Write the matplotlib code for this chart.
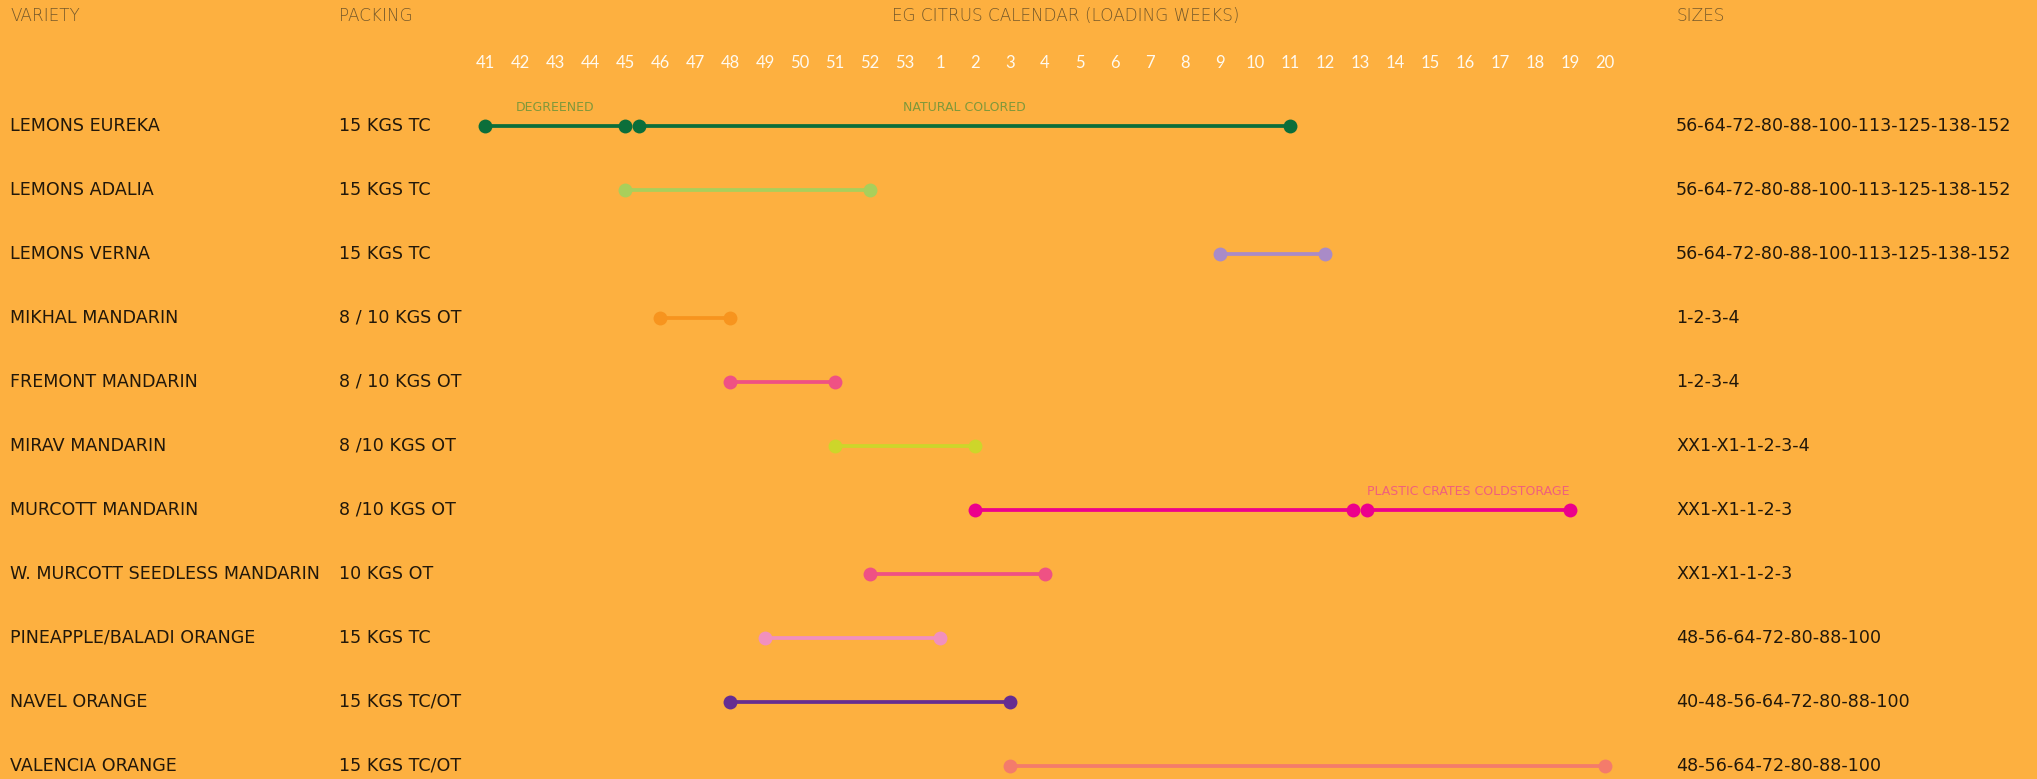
import matplotlib
matplotlib.use("Agg")
import matplotlib.pyplot as plt

# week axis: 41..53 then 1..20
weeks = list(range(41, 54)) + list(range(1, 21))

varieties = ['LEMONS EUREKA', 'LEMONS ADALIA', 'LEMONS VERNA', 'MIKHAL MANDARIN',
             'FREMONT MANDARIN', 'MIRAV MANDARIN', 'MURCOTT MANDARIN',
             'W. MURCOTT SEEDLESS MANDARIN', 'PINEAPPLE/BALADI ORANGE',
             'NAVEL ORANGE', 'VALENCIA ORANGE']
packing = ['15 KGS TC', '15 KGS TC', '15 KGS TC', '8 / 10 KGS OT', '8 / 10 KGS OT',
           '8 /10 KGS OT', '8 /10 KGS OT', '10 KGS OT', '15 KGS TC', '15 KGS TC/OT',
           '15 KGS TC/OT']
sizes = ['56-64-72-80-88-100-113-125-138-152', '56-64-72-80-88-100-113-125-138-152',
         '56-64-72-80-88-100-113-125-138-152', '1-2-3-4', '1-2-3-4', 'XX1-X1-1-2-3-4',
         'XX1-X1-1-2-3', 'XX1-X1-1-2-3', '48-56-64-72-80-88-100',
         '40-48-56-64-72-80-88-100', '48-56-64-72-80-88-100']

# loading segments per row, in positions along the week axis (0 = week 41)
segments = [
    [(0, 4.0, 'DEGREENED'), (4.4, 23, 'NATURAL COLORED')],
    [(4, 11, '')],
    [(21, 24, '')],
    [(5, 7, '')],
    [(7, 10, '')],
    [(10, 14, '')],
    [(14, 24.8, ''), (25.2, 31, 'PLASTIC CRATES COLDSTORAGE')],
    [(11, 16, '')],
    [(8, 13, '')],
    [(7, 15, '')],
    [(15, 32, '')],
]
colors = ['#0b6e3a', '#a9cf5b', '#a98bc7', '#f7941e', '#ef5184', '#cdd62a',
          '#ec008c', '#ef5184', '#f190be', '#662d91', '#f47b6b']
note_colors = {'DEGREENED': '#7f983a', 'NATURAL COLORED': '#7f983a',
               'PLASTIC CRATES COLDSTORAGE': '#f0607c'}

bg = '#fdb040'
W, H = 2037, 779
fig = plt.figure(figsize=(W / 100, H / 100), dpi=100, facecolor=bg)
ax = fig.add_axes([0, 0, 1, 1])
ax.set_facecolor(bg)
ax.axis('off')

# map data to pixels: week 41 at x=485, 35 px per week; row 0 at y=126, 64 px per row
ax.set_xlim(-485 / 35, (W - 485) / 35)
ax.set_ylim((H - 126) / 64, -126 / 64)

dark = '#22180a'
head = '#76592a'
fam = ['DejaVu Sans']

for i, row in enumerate(segments):
    for a, b, note in row:
        ax.plot([a, b], [i, i], color=colors[i], lw=2.7, solid_capstyle='butt', zorder=2)
        ax.plot([a, b], [i, i], 'o', color=colors[i], ms=10, mec='none', zorder=3)
        if note:
            ax.text((a + b) / 2, i - 0.19, note, color=note_colors[note], fontsize=9,
                    ha='center', va='bottom', family=fam)

yt = ax.get_yaxis_transform()
for i in range(len(varieties)):
    ax.text(0.005, i, varieties[i], transform=yt, fontsize=12.6, color=dark,
            va='center', family=fam)
    ax.text(0.1664, i, packing[i], transform=yt, fontsize=12.6, color=dark,
            va='center', family=fam)
    ax.text(0.8228, i, sizes[i], transform=yt, fontsize=12.6, color=dark,
            va='center', family=fam)

hy = (15.6 - 126) / 64
ax.text(0.005, hy, 'VARIETY', transform=yt, fontsize=12.2, color=head, va='center',
        family=fam, fontweight='light')
ax.text(0.1664, hy, 'PACKING', transform=yt, fontsize=12.2, color=head, va='center',
        family=fam, fontweight='light')
ax.text(0.8228, hy, 'SIZES', transform=yt, fontsize=12.2, color=head, va='center',
        family=fam, fontweight='light')
ax.text(16.6, hy, 'EG CITRUS CALENDAR (LOADING WEEKS)', fontsize=12.2, color=head,
        ha='center', va='center', family=fam, fontweight='light')

wy = (63.5 - 126) / 64
for k, w in enumerate(weeks):
    ax.text(k, wy, str(w), fontsize=12, color='#fffaf0', ha='center', va='center',
            family=['Lato', 'DejaVu Sans'])

fig.savefig('out.png', dpi=100, facecolor=bg)
